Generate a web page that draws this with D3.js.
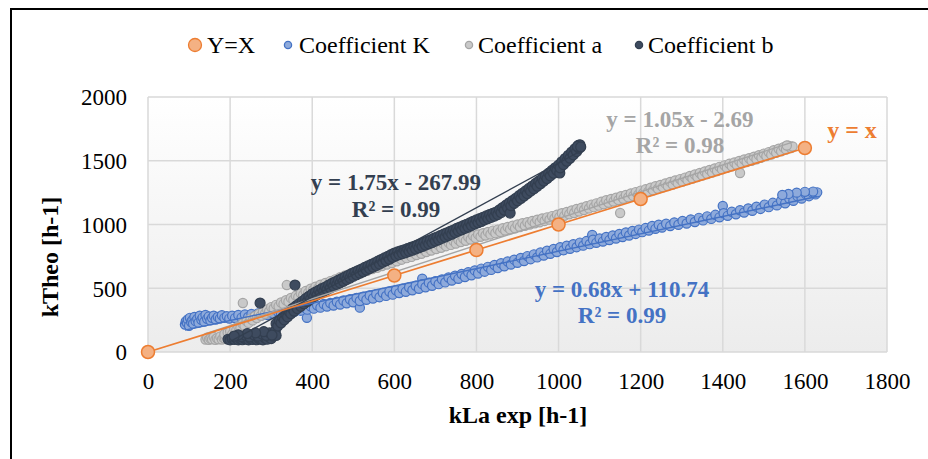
<!DOCTYPE html>
<html>
<head>
<meta charset="utf-8">
<script src="https://cdn.jsdelivr.net/npm/d3@7"></script>
<style>
  body { margin: 0; background: #fff; }
  svg { display: block; }
</style>
</head>
<body>
<svg id="chart" width="928" height="459"></svg>
<script>
// Axis ticks
const xTicks = [0, 200, 400, 600, 800, 1000, 1200, 1400, 1600, 1800];
const yTicks = [0, 500, 1000, 1500, 2000];

// Reference line y = x
const identity = [[0, 0], [600, 600], [800, 800], [1000, 1000], [1200, 1200], [1600, 1600]];

// Coefficient K  [kLa exp, kTheo]
const coefK = [
  [90,215],[92,240],[95,228],[97,255],[100,205],[102,268],[105,235],[108,250],[110,222],[113,275],
  [116,242],[120,260],[123,230],[126,285],[130,252],[133,270],[137,238],[140,290],[144,260],[148,278],
  [152,248],[156,268],[160,285],[165,255],[170,275],[175,262],[180,288],[186,268],[192,280],[198,262],
  [205,285],[212,266],[220,290],[228,270],[236,294],[244,275],[252,298],[260,280],[268,302],[276,285],
  [284,308],[292,290],[300,312],[308,296],[316,318],[324,302],[332,326],[340,308],[348,334],[356,316],
  [364,342],[372,324],[380,350],[387,268],[388,332],[396,358],[404,340],[412,366],[420,348],[428,376],
  [436,356],[444,384],[452,364],[460,394],[468,372],[476,404],[484,382],[492,414],[500,390],[508,424],
  [516,348],[516,400],[524,434],[532,410],[540,444],[548,420],[556,454],[564,430],[572,464],[580,440],
  [588,474],[596,450],[604,484],[612,462],[620,496],[628,472],[636,508],[644,484],[652,520],[660,496],
  [668,575],[668,532],[676,508],[684,544],[692,520],[700,556],[708,532],[716,570],[724,546],[732,584],
  [740,560],[748,598],[756,574],[764,612],[772,588],[780,626],[788,602],[796,640],[804,616],[812,654],
  [820,630],[828,668],[836,644],[844,682],[852,658],[860,696],[868,672],[876,710],[884,686],[892,724],
  [900,700],[908,738],[916,714],[924,752],[932,728],[940,766],[948,742],[956,780],[964,756],[972,794],
  [980,770],[988,808],[996,784],[1004,822],[1012,798],[1020,834],[1028,810],[1036,846],[1044,822],[1052,858],
  [1060,834],[1068,870],[1076,846],[1082,918],[1084,880],[1092,856],[1100,890],[1108,866],[1116,902],[1124,878],
  [1132,914],[1140,890],[1148,926],[1156,902],[1164,938],[1172,914],[1180,950],[1188,926],[1196,960],[1204,940],
  [1212,972],[1220,952],[1228,988],[1236,966],[1244,998],[1252,976],[1262,1006],[1272,988],[1282,1016],[1292,998],
  [1302,1028],[1312,1008],[1322,1040],[1332,1020],[1342,1052],[1352,1032],[1362,1064],[1372,1044],[1382,1076],[1392,1056],
  [1400,1145],[1402,1088],[1412,1068],[1422,1100],[1432,1080],[1442,1112],[1452,1094],[1462,1126],[1472,1108],[1482,1140],
  [1492,1122],[1502,1156],[1512,1136],[1522,1170],[1532,1150],[1542,1186],[1552,1166],[1562,1204],[1572,1186],[1582,1222],
  [1592,1204],[1602,1240],[1610,1222],[1618,1250],[1626,1236],[1630,1252],[1620,1258],[1600,1256],[1580,1250],[1560,1240],
  [1545,1232]
];

// Coefficient a  [kLa exp, kTheo]
const coefA = [
  [140,98],[144,112],[148,96],[152,106],[156,100],[160,118],[164,96],[168,108],[172,100],[176,122],
  [180,98],[184,110],[188,104],[192,126],[196,112],[186,140],[194,152],
  [200,162],[205,140],[210,182],[215,170],[220,200],[225,188],[230,222],[231,384],[235,205],[240,242],
  [245,228],[250,262],[255,248],[260,280],[265,266],[270,298],[275,284],[280,316],[285,300],[290,334],
  [295,318],[300,352],[306,342],[312,370],[318,358],[324,388],[330,376],[336,406],[338,525],[342,394],
  [348,424],[354,410],[360,442],[366,430],[372,460],[378,448],[384,478],[390,464],[396,496],[402,484],
  [408,512],[414,498],[420,528],[426,512],[432,542],[438,526],[444,556],[450,540],[456,570],[462,555],
  [468,586],[474,570],[480,600],[486,584],[492,614],[498,598],[504,628],[510,610],[516,640],[522,624],
  [528,654],[534,636],[540,666],[546,650],[552,678],[558,660],[564,690],[570,674],[576,704],[582,686],
  [588,716],[594,698],[600,728],[606,712],[612,740],[618,724],[624,754],[630,736],[636,766],[642,746],
  [648,778],[654,760],[660,790],[666,770],[672,802],[678,784],[684,814],[690,796],[696,826],[702,808],
  [708,836],[714,818],[720,848],[726,830],[732,858],[738,840],[744,870],[750,850],[756,880],[762,862],
  [768,890],[774,872],[780,902],[786,882],[792,912],[798,894],[804,922],[810,904],[816,932],[822,914],
  [828,942],[834,922],[840,952],[846,932],[852,960],[858,942],[864,970],[870,952],[876,980],[882,962],
  [888,990],[894,970],[900,1000],[906,980],[912,1010],[918,990],[924,1018],[930,1000],[936,1028],[942,1010],
  [948,1038],[954,1018],[960,1048],[966,1028],[972,1056],[978,1038],[984,1066],[990,1048],[996,1076],[1002,1058],
  [1008,1088],[1014,1068],[1020,1098],[1026,1080],[1032,1110],[1038,1090],[1044,1122],[1050,1102],[1056,1132],[1062,1114],
  [1068,1144],[1074,1126],[1080,1156],[1086,1136],[1092,1166],[1098,1148],[1104,1178],[1110,1158],[1116,1190],[1122,1170],
  [1128,1200],[1134,1180],[1140,1210],[1146,1192],[1150,1090],[1152,1222],[1158,1202],[1164,1232],[1170,1214],[1176,1244],
  [1182,1224],[1188,1254],[1194,1234],[1200,1266],[1206,1246],[1212,1276],[1218,1256],[1224,1288],[1230,1268],[1236,1300],
  [1242,1280],[1248,1310],[1254,1292],[1260,1322],[1266,1302],[1272,1334],[1278,1314],[1284,1346],[1290,1326],[1296,1356],
  [1302,1336],[1308,1368],[1314,1348],[1320,1380],[1326,1360],[1332,1392],[1338,1372],[1344,1404],[1350,1384],[1356,1416],
  [1362,1396],[1368,1428],[1374,1408],[1380,1440],[1386,1420],[1392,1452],[1398,1432],[1404,1464],[1410,1444],[1416,1476],
  [1422,1456],[1428,1486],[1434,1466],[1440,1498],[1442,1404],[1446,1478],[1452,1510],[1458,1490],[1464,1520],[1470,1500],
  [1476,1532],[1482,1512],[1488,1544],[1494,1524],[1500,1556],[1506,1536],[1512,1568],[1518,1548],[1524,1582],[1530,1562],
  [1536,1594],[1542,1574],[1548,1606],[1554,1588],[1560,1618],[1566,1600],[1570,1612],[1556,1620]
];

// Coefficient b  [kLa exp, kTheo]
const coefB = [
  [195,100],[200,95],[205,105],[210,98],[215,110],[220,95],[225,102],[230,96],[235,108],[240,100],
  [245,95],[250,104],[255,98],[260,112],[265,96],[270,106],[275,100],[280,95],[285,110],[290,100],
  [295,118],[300,105],[305,125],[228,120],[238,130],[248,118],[258,135],[268,125],[278,140],[288,130],
  [296,150],[304,140],[310,165],[312,130],[282,160],[262,150],[242,145],[220,135],[210,125],[302,133],
  [273,384],[358,525],
  [312,222],[316,204],[320,246],[324,228],[328,270],[332,252],[336,294],[340,276],[344,318],[348,300],
  [352,341],[356,320],[360,360],[364,340],[368,379],[372,358],[376,398],[380,378],[384,418],[388,396],
  [392,437],[396,416],[400,456],[404,434],[408,470],[412,448],[416,484],[420,462],[424,498],[428,476],
  [432,510],[436,490],[440,524],[444,502],[448,538],[452,516],[456,551],[460,530],[464,563],[468,542],
  [472,576],[476,554],[480,589],[484,568],[488,602],[492,580],[496,615],[500,594],[504,627],[508,606],
  [512,639],[516,618],[520,651],[524,630],[528,663],[532,642],[536,675],[540,654],[544,687],[548,666],
  [552,699],[556,678],[560,712],[564,690],[568,725],[572,704],[576,738],[580,716],[584,750],[588,728],
  [592,763],[596,742],[600,776],[604,754],[608,785],[612,764],[616,794],[620,772],[624,802],[628,780],
  [632,811],[636,790],[640,820],[644,798],[648,829],[652,808],[656,839],[660,818],[664,849],[668,828],
  [672,860],[676,838],[680,870],[684,848],[688,880],[692,858],[696,891],[700,870],[704,902],[708,880],
  [712,913],[716,892],[720,924],[724,902],[728,935],[732,914],[736,946],[740,924],[744,957],[748,936],
  [752,969],[756,948],[760,980],[764,958],[768,991],[772,970],[776,1002],[780,980],[784,1013],[788,992],
  [792,1025],[796,1004],[800,1036],[804,1014],[808,1046],[812,1024],[816,1057],[820,1036],[824,1067],[828,1046],
  [832,1078],[836,1056],[840,1088],[844,1066],[848,1098],[852,1078],[856,1115],[860,1094],[864,1133],[868,1112],
  [872,1152],[876,1130],[880,1170],[882,1090],[884,1148],[888,1188],[892,1166],[896,1206],[900,1186],[904,1226],
  [908,1204],[912,1245],[916,1224],[920,1264],[924,1242],[928,1283],[932,1262],[936,1302],[940,1280],[944,1322],
  [948,1300],[952,1341],[956,1320],[960,1362],[964,1340],[968,1382],[972,1360],[976,1403],[980,1382],[984,1424],
  [988,1402],[992,1445],[996,1424],[1000,1466],[1003,1404],[1004,1444],[1008,1492],[1012,1470],[1016,1517],[1020,1496],
  [1024,1543],[1028,1520],[1032,1568],[1036,1546],[1040,1594],[1044,1572],[1048,1620],[1050,1598],[1052,1625],[1046,1612],
  [1054,1608]
];

// Linear fits shown on the chart
const fitSlopes = [0.68, 1.05, 1.75];
const fitIntercepts = [110.74, -2.69, -267.99];
const fitR2 = ["0.99", "0.98", "0.99"];

const seriesNames = ["Y=X", "Coefficient K", "Coefficient a", "Coefficient b"];

// ---- drawing ----
const FONT = "'Liberation Serif'";
const svg = d3.select("#chart").attr("font-family", FONT);
const W = 928, H = 459;
const plot = { left: 148, right: 887, top: 97, bottom: 352 };

const x = d3.scaleLinear().domain([0, 1800]).range([plot.left, plot.right]);
const y = d3.scaleLinear().domain([0, 2000]).range([plot.bottom, plot.top]);

svg.append("rect").attr("width", W).attr("height", H).attr("fill", "#fff");
// outer frame (runs past the right and bottom edges of the view)
svg.append("rect").attr("x", 11).attr("y", 9).attr("width", 960).attr("height", 500)
  .attr("fill", "none").attr("stroke", "#000").attr("stroke-width", 2);

const defs = svg.append("defs");
const grad = defs.append("linearGradient").attr("id", "plotBg")
  .attr("x1", 0).attr("y1", 0).attr("x2", 0).attr("y2", 1);
grad.append("stop").attr("offset", "0%").attr("stop-color", "#ffffff");
grad.append("stop").attr("offset", "100%").attr("stop-color", "#ececec");

svg.append("rect")
  .attr("x", plot.left).attr("y", plot.top)
  .attr("width", plot.right - plot.left).attr("height", plot.bottom - plot.top)
  .attr("fill", "url(#plotBg)");

// gridlines
const gridColor = "#d9d9d9";
svg.append("g").selectAll("line").data(xTicks).join("line")
  .attr("x1", d => x(d)).attr("x2", d => x(d))
  .attr("y1", plot.top).attr("y2", plot.bottom)
  .attr("stroke", gridColor).attr("stroke-width", 1.5);
svg.append("g").selectAll("line").data(yTicks).join("line")
  .attr("x1", plot.left).attr("x2", plot.right)
  .attr("y1", d => y(d)).attr("y2", d => y(d))
  .attr("stroke", gridColor).attr("stroke-width", 1.5);

// axes (tick labels only; the lines come from the grid)
const xAxis = svg.append("g").attr("transform", `translate(0,${plot.bottom})`)
  .call(d3.axisBottom(x).tickValues(xTicks).tickSize(0).tickPadding(0).tickFormat(d3.format("d")));
xAxis.attr("font-family", FONT);
xAxis.select(".domain").remove();
xAxis.selectAll("text").attr("dy", 0).attr("y", 37)
  .attr("font-size", 23).attr("fill", "#000").attr("font-family", FONT);

const yAxis = svg.append("g").attr("transform", `translate(127,0)`)
  .call(d3.axisLeft(y).tickValues(yTicks).tickSize(0).tickPadding(0).tickFormat(d3.format("d")));
yAxis.attr("font-family", FONT);
yAxis.select(".domain").remove();
yAxis.selectAll("text").attr("dy", "0.34em").attr("x", 0)
  .attr("font-size", 23).attr("fill", "#000").attr("font-family", FONT);

// axis titles
svg.append("text").attr("x", 518).attr("y", 423).attr("text-anchor", "middle")
  .attr("font-family", FONT).attr("font-size", 24).attr("font-weight", "bold").text("kLa exp [h-1]");
svg.append("text").attr("transform", "translate(58,257) rotate(-90)").attr("text-anchor", "middle")
  .attr("font-family", FONT).attr("font-size", 24).attr("font-weight", "bold").text("kTheo [h-1]");

// scatter series
const styles = [
  { data: coefK, fill: "#8eaadb", stroke: "#4472c4", r: 4.6 },
  { data: coefA, fill: "#c9c9c9", stroke: "#a5a5a5", r: 4.6 },
  { data: coefB, fill: "#3e4b5f", stroke: "#333f50", r: 5 }
];
styles.forEach(s => {
  svg.append("g").selectAll("circle").data(s.data).join("circle")
    .attr("cx", d => x(d[0])).attr("cy", d => y(d[1])).attr("r", s.r)
    .attr("fill", s.fill).attr("stroke", s.stroke).attr("stroke-width", 1.2);
});

// trendlines over each series' x range
styles.forEach((s, i) => {
  const [x0, x1] = d3.extent(s.data, d => d[0]);
  const f = v => fitSlopes[i] * v + fitIntercepts[i];
  svg.append("line")
    .attr("x1", x(x0)).attr("y1", y(f(x0)))
    .attr("x2", x(x1)).attr("y2", y(f(x1)))
    .attr("stroke", s.stroke).attr("stroke-width", 1.4);
});

// y = x reference
svg.append("path").datum(identity)
  .attr("d", d3.line().x(d => x(d[0])).y(d => y(d[1])))
  .attr("fill", "none").attr("stroke", "#ed7d31").attr("stroke-width", 1.8);
svg.append("g").selectAll("circle").data(identity).join("circle")
  .attr("cx", d => x(d[0])).attr("cy", d => y(d[1])).attr("r", 6.5)
  .attr("fill", "#f4b183").attr("stroke", "#ed7d31").attr("stroke-width", 1.5);

// fit labels
function fmtEq(i) {
  const b = fitIntercepts[i];
  return `y = ${fitSlopes[i].toFixed(2)}x ${b < 0 ? "-" : "+"} ${Math.abs(b).toFixed(2)}`;
}
const labelPos = [
  { cx: 622, y1: 297, y2: 323, color: "#4472c4" },
  { cx: 680, y1: 127, y2: 153, color: "#a5a5a5" },
  { cx: 396, y1: 190, y2: 217, color: "#333f50" }
];
labelPos.forEach((p, i) => {
  svg.append("text").attr("x", p.cx).attr("y", p.y1).attr("text-anchor", "middle")
    .attr("font-family", FONT).attr("font-size", 23).attr("font-weight", "bold")
    .attr("fill", p.color).text(fmtEq(i));
  svg.append("text").attr("x", p.cx).attr("y", p.y2).attr("text-anchor", "middle")
    .attr("font-family", FONT).attr("font-size", 23).attr("font-weight", "bold")
    .attr("fill", p.color).text(`R² = ${fitR2[i]}`);
});
svg.append("text").attr("x", 852).attr("y", 138).attr("text-anchor", "middle")
  .attr("font-family", FONT).attr("font-size", 24).attr("font-weight", "bold")
  .attr("fill", "#ed7d31").text("y = x");

// legend
const legendItems = [
  { name: seriesNames[0], mx: 195, tx: 207, fill: "#f4b183", stroke: "#ed7d31", r: 6.5 },
  { name: seriesNames[1], mx: 288, tx: 299, fill: "#8eaadb", stroke: "#4472c4", r: 3.6 },
  { name: seriesNames[2], mx: 469, tx: 478, fill: "#c9c9c9", stroke: "#a5a5a5", r: 3.6 },
  { name: seriesNames[3], mx: 639, tx: 648, fill: "#3e4b5f", stroke: "#333f50", r: 3.6 }
];
const lg = svg.append("g");
legendItems.forEach(it => {
  lg.append("circle").attr("cx", it.mx).attr("cy", 45).attr("r", it.r)
    .attr("fill", it.fill).attr("stroke", it.stroke).attr("stroke-width", 1.3);
  lg.append("text").attr("x", it.tx).attr("y", 53).attr("font-family", FONT)
    .attr("font-size", 24).attr("fill", "#000").text(it.name);
});
</script>
</body>
</html>
